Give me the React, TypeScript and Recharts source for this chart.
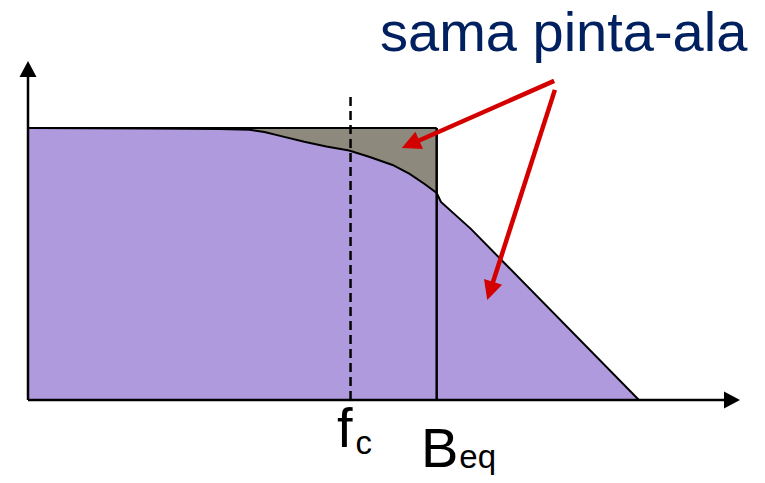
import { ComposedChart, Area, XAxis, YAxis, ReferenceLine } from "recharts"

// frequency (arbitrary units) vs. gain (passband = 1)
const fc = 4.53
const beq = 5.74
const xMax = 10
const yMax = 1.246

const responseCurve = [
  { f: 0, g: 1.0 },
  { f: 1.7, g: 0.998 },
  { f: 2.69, g: 0.996 },
  { f: 3.11, g: 0.993 },
  { f: 3.32, g: 0.985 },
  { f: 3.57, g: 0.969 },
  { f: 3.88, g: 0.949 },
  { f: 4.19, g: 0.932 },
  { f: 4.51, g: 0.917 },
  { f: 4.8, g: 0.893 },
  { f: 5.12, g: 0.864 },
  { f: 5.36, g: 0.831 },
  { f: 5.57, g: 0.794 },
  { f: 5.74, g: 0.761 },
  { f: 5.8, g: 0.728 },
  { f: 6.22, g: 0.629 },
  { f: 8.58, g: 0 },
]

const equivRect = [
  { f: 0, g: 1 },
  { f: beq, g: 1 },
]

// red pointer arrows: tail -> tip
const pointers = [
  { from: { x: 7.39, y: 1.173 }, to: { x: 5.25, y: 0.926 } },
  { from: { x: 7.4, y: 1.14 }, to: { x: 6.45, y: 0.368 } },
]

const makeArrow = (color: string, width: number, len: number, half: number) => (props: any) => {
  const { x1, y1, x2, y2 } = props
  const dx = x2 - x1
  const dy = y2 - y1
  const d = Math.sqrt(dx * dx + dy * dy) || 1
  const ux = dx / d
  const uy = dy / d
  const bx = x2 - ux * len
  const by = y2 - uy * len
  const px = -uy * half
  const py = ux * half
  return (
    <g>
      <line x1={x1} y1={y1} x2={bx + ux * 2} y2={by + uy * 2} stroke={color} strokeWidth={width} />
      <polygon points={`${x2},${y2} ${bx + px},${by + py} ${bx - px},${by - py}`} fill={color} />
    </g>
  )
}

const axisArrow = makeArrow("#000", 2.5, 16, 8.5)
const redArrow = makeArrow("#d40000", 4.5, 19, 9.5)

const font = "Liberation Sans, Arial, sans-serif"

export default function App() {
  return (
    <div>
      <style>{`body{margin:0}`}</style>
      <ComposedChart
        width={765}
        height={483}
        margin={{ top: 61, right: 25, bottom: 83, left: 28 }}
      >
        <XAxis type="number" dataKey="f" domain={[0, xMax]} hide allowDataOverflow />
        <YAxis type="number" dataKey="g" domain={[0, yMax]} hide allowDataOverflow />
        <Area
          data={equivRect}
          dataKey="g"
          type="linear"
          fill="#8e897d"
          fillOpacity={1}
          stroke="none"
          isAnimationActive={false}
        />
        <Area
          data={responseCurve}
          dataKey="g"
          type="linear"
          fill="#b09ade"
          fillOpacity={1}
          stroke="#000"
          strokeWidth={2}
          isAnimationActive={false}
        />
        <ReferenceLine segment={[{ x: 0, y: 1 }, { x: beq, y: 1 }]} stroke="#000" strokeWidth={2} />
        <ReferenceLine segment={[{ x: beq, y: 0 }, { x: beq, y: 1 }]} stroke="#000" strokeWidth={2.5} />
        <ReferenceLine
          segment={[{ x: fc, y: 0 }, { x: fc, y: 1.121 }]}
          stroke="#000"
          strokeWidth={2.5}
          strokeDasharray="9 5"
        />
        <ReferenceLine segment={[{ x: 0, y: 0 }, { x: 0, y: yMax }]} shape={axisArrow} />
        <ReferenceLine segment={[{ x: 0, y: 0 }, { x: xMax, y: 0 }]} shape={axisArrow} />
        {pointers.map((p, i) => (
          <ReferenceLine key={i} segment={[p.from, p.to]} shape={redArrow} />
        ))}
        <text x={380} y={51} fontFamily={font} fontSize={56} fill="#002060">
          sama pinta-ala
        </text>
        <text x={337} y={447} fontFamily={font} fontSize={56} fill="#000">
          f
          <tspan fontSize={33} dx={3} dy={7}>c</tspan>
        </text>
        <text x={421} y={467} fontFamily={font} fontSize={56} fill="#000">
          B
          <tspan fontSize={33} dx={1} dy={1}>eq</tspan>
        </text>
      </ComposedChart>
    </div>
  )
}
